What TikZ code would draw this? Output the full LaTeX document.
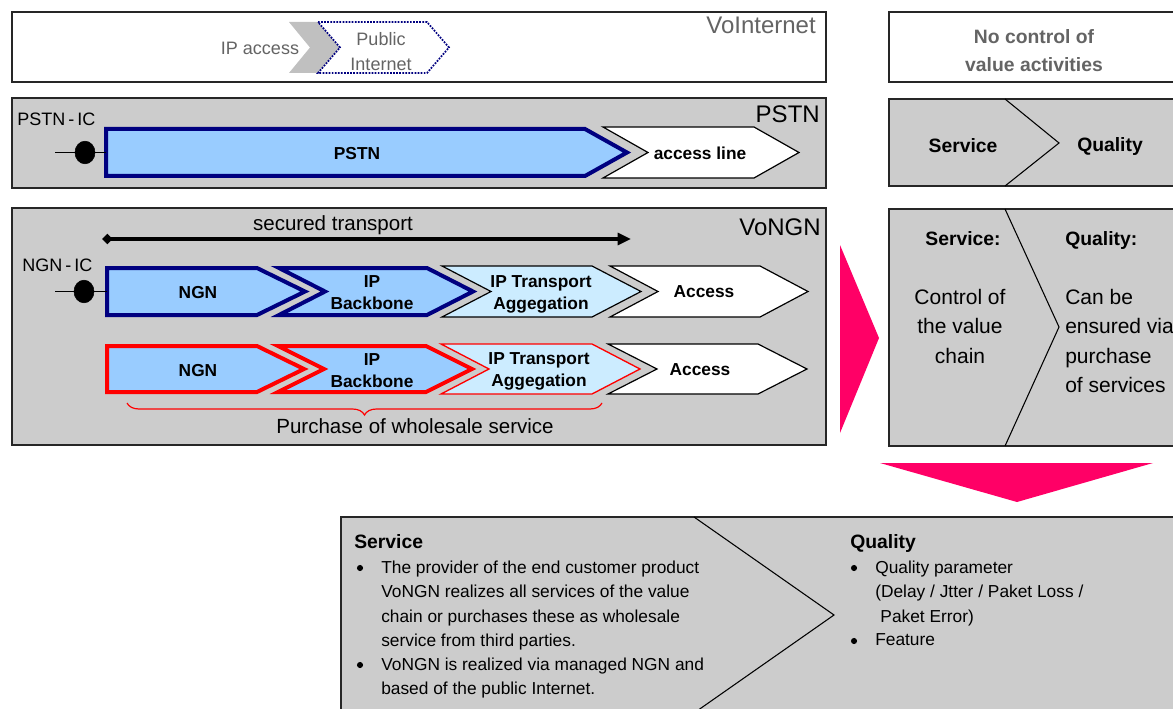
\documentclass[tikz,border=0pt]{standalone}
\usepackage{fontspec}
\setmainfont{Liberation Sans}
\usetikzlibrary{arrows.meta,decorations.pathreplacing,shapes.geometric}

\definecolor{panelgray}{RGB}{204,204,204}
\definecolor{ngnblue}{RGB}{153,204,255}
\definecolor{paleblue}{RGB}{204,236,255}
\definecolor{navy}{RGB}{0,0,128}
\definecolor{hotpink}{RGB}{255,0,102}
\definecolor{chevgray}{RGB}{192,192,192}
\definecolor{softtext}{RGB}{100,100,100}

\newcommand\fsz[2]{\fontsize{#1}{#2}\selectfont}
% chevron with a notched tail: style, left, top, top width, tip depth, half height
\newcommand\chevron[6]{\draw[#1] (#2,#3) -- ++(#4,0) -- ++(#5,#6) -- ++(-#5,#6) -- ++(-#4,0) -- ++(#5,-#6) -- cycle;}
% chevron with a flat tail
\newcommand\chevflat[6]{\draw[#1] (#2,#3) -- ++(#4,0) -- ++(#5,#6) -- ++(-#5,#6) -- ++(-#4,0) -- cycle;}

\tikzset{
  panel/.style={draw=black!85, line width=1.2pt, fill=panelgray},
  whitepanel/.style={draw=black!85, line width=1.2pt, fill=white},
  divider/.style={draw=black, line width=0.8pt},
  navychev/.style={draw=navy, line width=3pt, fill=ngnblue, line join=miter},
  redchev/.style={draw=red, line width=3pt, fill=ngnblue, line join=miter},
  thinchev/.style={draw=black, line width=0.9pt, fill=#1},
  heading/.style={inner sep=0, font=\fsz{18}{21}},
  plain/.style={inner sep=0, font=\fsz{15.4}{18}},
  iclabel/.style={inner sep=0, font=\fsz{13.5}{16}},
  chevlabel/.style={inner sep=0, align=center, font=\bfseries\fsz{13}{16.1}},
  boxhead/.style={inner sep=0, font=\bfseries\fsz{14.5}{17}},
  boxbody/.style={inner sep=0, font=\fsz{15.75}{22}},
  bullettext/.style={inner sep=0, align=left, font=\fsz{13}{18.15}},
  bulletmark/.style={circle, fill=black, draw=none, inner sep=0, minimum size=4.6pt},
  pinkarrow/.style={fill=hotpink, draw=none},
  icdot/.style={fill=black, draw=black, ellipse, minimum width=15pt, minimum height=17pt, inner sep=0}
}

\begin{document}
\begin{tikzpicture}[x=0.75pt, y=-0.75pt]
\clip (0,0) rectangle (1173,709);
\fill[white] (0,0) rectangle (1173,709);

% ---------- VoInternet panel ----------
\draw[whitepanel] (12,12) rectangle (826,82);
\node[heading, text=softtext, anchor=base east] (voint) at (816,34) {VoInternet};
\draw[fill=chevgray, draw=none] (289,22) -- (320,22) -- (342,47.5) -- (320,73) -- (289,73) -- (310,47.5) -- cycle;
\node[iclabel, text=softtext, anchor=base] (ipacc) at (260,55) {IP access};
\chevron{draw=navy, densely dotted, line width=1.3pt, fill=white}{318}{22}{109}{22}{25.5}
\node[iclabel, text=softtext, align=center, anchor=north, font=\fsz{13.5}{18.75}] (pubnet) at (381,32.5) {Public\\Internet};

% ---------- PSTN panel ----------
\draw[panel] (12,98) rectangle (826,188);
\node[heading, anchor=base east] (pstnhead) at (820,123) {PSTN};
\node[iclabel, anchor=base west] (pstnic) at (17,126) {PSTN\thinspace-\thinspace IC};
\chevflat{navychev}{106}{129}{479}{42}{23.5}
\chevron{thinchev=white}{603}{127}{151}{45}{25.5}
\node[chevlabel, anchor=base] (pstnlab) at (357,160) {PSTN};
\node[chevlabel, anchor=base] (acclab) at (700,160) {access line};
\coordinate (pstnwire) at (55,152.5);
\coordinate (pstnin) at (106,152.5);
\node[icdot] (pstndot) at (85,152.5) {};
\draw[line width=0.9pt] (pstnwire) -- (pstndot) -- (pstnin);

% ---------- VoNGN panel ----------
\draw[panel] (12,208) rectangle (826,445);
\node[heading, anchor=base east] (vongnhead) at (821,235) {VoNGN};
\node[plain, anchor=base] (sectxt) at (333,230) {secured transport};
\coordinate (secA) at (102,239);
\coordinate (secB) at (631,239);
\draw[line width=2.3pt, {Diamond[length=8pt,width=8pt]}-{Triangle[length=10pt,width=9pt]}] (secA) -- (secB);
\node[iclabel, anchor=base west] (ngnic) at (22,272) {NGN\thinspace-\thinspace IC};

% first chain
\chevron{thinchev=white}{610}{266}{150}{48}{25.5}
\chevron{thinchev=paleblue}{442}{266}{150}{49}{25.5}
\chevron{navychev}{279}{268}{148}{46}{23.5}
\chevflat{navychev}{107}{268}{150}{48}{23.5}
\node[chevlabel, anchor=base] (ngn1) at (198,298) {NGN};
\node[chevlabel, anchor=north] (bb1) at (372,275.6) {IP\\Backbone};
\node[chevlabel, anchor=north] (tr1) at (541,275.6) {IP Transport\\Aggegation};
\node[chevlabel, anchor=base] (ac1) at (704,297) {Access};
\coordinate (ngnwire) at (55,291.5);
\coordinate (ngnin) at (107,291.5);
\node[icdot] (ngndot) at (84,291.5) {};
\draw[line width=0.9pt] (ngnwire) -- (ngndot) -- (ngnin);

% second chain
\chevron{thinchev=white}{608}{344}{150}{49}{25}
\chevron{draw=red, line width=1pt, fill=paleblue}{441}{344}{151}{48}{25}
\chevron{redchev}{278}{346}{148}{46}{23}
\chevflat{redchev}{107}{346}{150}{47}{23}
\node[chevlabel, anchor=base] (ngn2) at (198,376) {NGN};
\node[chevlabel, anchor=north] (bb2) at (372,353.6) {IP\\Backbone};
\node[chevlabel, anchor=north] (tr2) at (539,352.6) {IP Transport\\Aggegation};
\node[chevlabel, anchor=base] (ac2) at (700,375) {Access};

\coordinate (braceR) at (602,403);
\coordinate (braceL) at (127,403);
\draw[red, line width=0.9pt, decorate, decoration={brace, amplitude=9pt}] (braceR) -- (braceL);
\node[plain, anchor=base] (wholesale) at (415,433) {Purchase of wholesale service};

% ---------- right column ----------
\draw[whitepanel] (889,12) rectangle (1185,82);
\node[boxhead, text=softtext, align=center, anchor=north, font=\bfseries\fsz{14.5}{21}] (noctrl) at (1034,29.2) {No control of\\value activities};

\draw[panel] (889,99) rectangle (1185,186);
\coordinate (d2a) at (1005,99);
\coordinate (d2b) at (1059,143);
\coordinate (d2c) at (1005,186);
\draw[divider] (d2a) -- (d2b) -- (d2c);
\node[boxhead, anchor=base] (svc2) at (963,153) {Service};
\node[boxhead, anchor=base] (qual2) at (1110,152) {Quality};

\draw[panel] (889,209) rectangle (1185,446);
\coordinate (d3a) at (1005,209);
\coordinate (d3b) at (1059,327);
\coordinate (d3c) at (1005,446);
\draw[divider] (d3a) -- (d3b) -- (d3c);
\node[boxhead, anchor=base] (svc3) at (963,245) {Service:};
\node[boxhead, anchor=base west] (qual3) at (1065,245) {Quality:};
\node[boxbody, align=center, anchor=north] (ctrl) at (960,289) {Control of\\the value\\chain};
\node[boxbody, align=left, anchor=north west] (ensure) at (1065,289) {Can be\\ensured via\\purchase\\of services};

% pink arrows
\path[pinkarrow] (840,245) -- (879,338) -- (840,433) -- cycle;
\path[pinkarrow] (880,463) -- (1153,463) -- (1017,502) -- cycle;

% ---------- summary panel ----------
\draw[panel] (341,517) rectangle (1185,720);
\coordinate (dba) at (694,517);
\coordinate (dbb) at (834,615);
\coordinate (dbc) at (694,713);
\draw[divider] (dba) -- (dbb) -- (dbc);
\node[boxhead, anchor=base west] (svcb) at (354,548) {Service};
\node[bulletmark] (b1) at (360,568) {};
\node[bullettext, anchor=north west] (t1) at (381,560.8) {The provider of the end customer product\\VoNGN realizes all services of the value\\chain or purchases these as wholesale\\service from third parties.};
\node[bulletmark] (b2) at (360,665) {};
\node[bullettext, anchor=north west] (t2) at (381,657.8) {VoNGN is realized via managed NGN and\\based of the public Internet.};

\node[boxhead, anchor=base west] (qualb) at (850,548) {Quality};
\node[bulletmark] (b3) at (854,568) {};
\node[bullettext, anchor=north west] (t3) at (875,560.8) {Quality parameter\\(Delay / Jtter / Paket Loss /\\\hspace*{0.3em}Paket Error)};
\node[bulletmark] (b4) at (854,641) {};
\node[bullettext, anchor=base west] (t4) at (875,645.6) {Feature};
\end{tikzpicture}
\end{document}
